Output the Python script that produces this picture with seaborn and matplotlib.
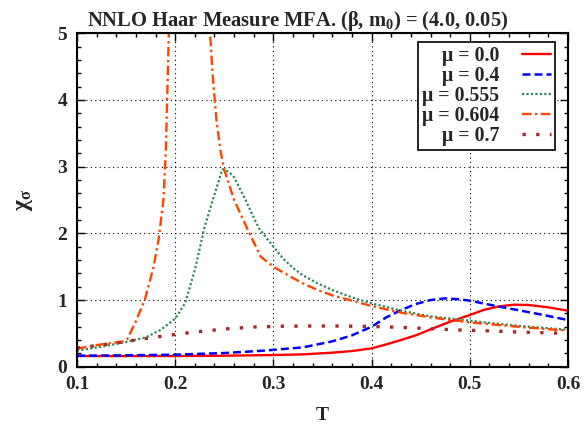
import numpy as np
import pandas as pd
import matplotlib
matplotlib.use("Agg")
import matplotlib.pyplot as plt
import seaborn as sns
from matplotlib.ticker import MultipleLocator

# ---- data ----
T_mu00 = [0.10, 0.15, 0.20, 0.25, 0.30, 0.33, 0.36, 0.38, 0.40, 0.415, 0.43, 0.445, 0.46, 0.48, 0.50, 0.515, 0.53, 0.545, 0.56, 0.58, 0.60]
chi_mu00 = [0.16, 0.16, 0.16, 0.165, 0.175, 0.185, 0.21, 0.235, 0.275, 0.335, 0.40, 0.47, 0.56, 0.675, 0.775, 0.855, 0.905, 0.93, 0.925, 0.89, 0.84]

T_mu04 = [0.10, 0.15, 0.20, 0.25, 0.29, 0.33, 0.36, 0.38, 0.40, 0.415, 0.43, 0.445, 0.46, 0.475, 0.49, 0.50, 0.515, 0.53, 0.545, 0.57, 0.60]
chi_mu04 = [0.165, 0.17, 0.18, 0.205, 0.24, 0.29, 0.38, 0.47, 0.60, 0.74, 0.85, 0.94, 1.0, 1.025, 1.01, 0.99, 0.945, 0.90, 0.86, 0.79, 0.70]

T_mu0555 = [0.10, 0.125, 0.15, 0.17, 0.185, 0.20, 0.21, 0.22, 0.23, 0.24, 0.248, 0.255, 0.26, 0.27, 0.285, 0.30, 0.31, 0.32, 0.33, 0.345, 0.36, 0.38, 0.40, 0.43, 0.46, 0.50, 0.53, 0.56, 0.60]
chi_mu0555 = [0.24, 0.30, 0.37, 0.44, 0.55, 0.72, 0.95, 1.45, 2.10, 2.58, 2.96, 2.92, 2.84, 2.55, 2.08, 1.80, 1.62, 1.48, 1.37, 1.25, 1.15, 1.04, 0.95, 0.84, 0.755, 0.69, 0.64, 0.60, 0.555]

T_mu0604 = [0.10, 0.118, 0.135, 0.146, 0.151, 0.159, 0.169, 0.178, 0.183, 0.188, 0.1905, 0.1935, 0.195, 0.234, 0.2355, 0.238, 0.242, 0.246, 0.25, 0.26, 0.274, 0.287, 0.30, 0.315, 0.33, 0.345, 0.36, 0.38, 0.40, 0.43, 0.46, 0.50, 0.53, 0.56, 0.60]
chi_mu0604 = [0.27, 0.32, 0.355, 0.375, 0.41, 0.65, 1.0, 1.5, 1.9, 2.5, 3.25, 5.0, 5.6, 5.6, 5.0, 4.4, 3.7, 3.25, 2.95, 2.5, 2.05, 1.65, 1.5, 1.37, 1.25, 1.15, 1.07, 0.99, 0.91, 0.81, 0.74, 0.665, 0.625, 0.585, 0.54]

T_mu07 = [0.10, 0.13, 0.16, 0.19, 0.22, 0.25, 0.28, 0.31, 0.34, 0.37, 0.40, 0.43, 0.46, 0.49, 0.52, 0.55, 0.60]
chi_mu07 = [0.28, 0.335, 0.40, 0.465, 0.52, 0.565, 0.595, 0.607, 0.61, 0.61, 0.603, 0.59, 0.57, 0.55, 0.537, 0.52, 0.50]

labels = ["μ = 0.0", "μ = 0.4", "μ = 0.555", "μ = 0.604", "μ = 0.7"]
x_ticks = [0.1, 0.2, 0.3, 0.4, 0.5, 0.6]
y_ticks = [0, 1, 2, 3, 4, 5]

series = [
    (T_mu00, chi_mu00, labels[0], "#ff0000", 1.7, "-"),
    (T_mu04, chi_mu04, labels[1], "#0000ff", 1.8, (0, (3.2, 1.6))),
    (T_mu0555, chi_mu0555, labels[2], "#2e8b57", 1.6, (0, (1, 1))),
    (T_mu0604, chi_mu0604, labels[3], "#ff4500", 1.7, (0, (4, 1.5, 1, 1.5))),
    (T_mu07, chi_mu07, labels[4], "#a52a2a", 2.4, (0, (1, 3.1))),
]

sns.set_theme(style="ticks")
plt.rcParams["font.family"] = ["Liberation Serif", "DejaVu Serif"]
plt.rcParams["font.weight"] = "bold"
plt.rcParams["mathtext.fontset"] = "custom"
plt.rcParams["mathtext.rm"] = "Liberation Serif"
plt.rcParams["mathtext.it"] = "Liberation Serif:italic"
plt.rcParams["mathtext.bf"] = "Liberation Serif:bold"

fig = plt.figure(figsize=(5.84, 4.28), dpi=100)
ax = fig.add_axes([77 / 584, (428 - 366.7) / 428, (568 - 77) / 584, (366.7 - 33.3) / 428])

handles = []
for T, chi, lab, col, lw, ls in series:
    df = pd.DataFrame({"T": T, "chi": chi})
    sns.lineplot(data=df, x="T", y="chi", ax=ax, color=col, lw=lw,
                 estimator=None, sort=False, label=lab)
    ln = ax.lines[-1]
    ln.set_linestyle(ls)
    ln.set_dash_capstyle("butt")
    handles.append(ln)

ax.set_xlim(0.1, 0.6)
ax.set_ylim(0, 5)
ax.set_xticks(x_ticks)
ax.set_yticks(y_ticks)
ax.set_xticklabels([f"{v:.1f}" for v in x_ticks])
ax.set_yticklabels([str(v) for v in y_ticks])
ax.xaxis.set_minor_locator(MultipleLocator(0.02))
ax.yaxis.set_minor_locator(MultipleLocator(0.2))
ax.tick_params(which="both", direction="in", top=True, right=True, color="black", width=1.0)
ax.tick_params(which="major", length=6, labelsize=14, pad=7)
ax.tick_params(which="minor", length=3)
for lab in ax.get_xticklabels() + ax.get_yticklabels():
    lab.set_fontweight("bold")
for sp in ax.spines.values():
    sp.set_linewidth(1.5)
    sp.set_color("black")
    sp.set_visible(True)

ax.grid(True, which="major", color="black", linestyle=(0, (1, 3)), linewidth=0.8)

ax.set_xlabel("T", fontsize=14, fontweight="bold", labelpad=10)
ax.set_ylabel(r"$\mathrm{\chi_{\sigma}}$", fontsize=17, fontweight="normal", labelpad=16)

fig.text(298 / 584, 1 - 26 / 428, r"NNLO Haar Measure MFA. (β, m$_{\mathbf{0}}$) = (4.0, 0.05)",
         ha="center", va="baseline", fontsize=14.8, fontweight="bold")

leg = ax.legend(handles=handles, labels=labels, loc="upper right",
                bbox_to_anchor=((555 - 77) / 491, (366.7 - 42) / 333.4),
                borderaxespad=0, markerfirst=False, fancybox=False,
                framealpha=1, edgecolor="black", prop={"size": 14.3, "weight": "bold"},
                handlelength=1.45, handletextpad=1.15, labelspacing=0.0, borderpad=0.2)
leg.get_frame().set_linewidth(1.2)

fig.savefig("out.png", dpi=100)
